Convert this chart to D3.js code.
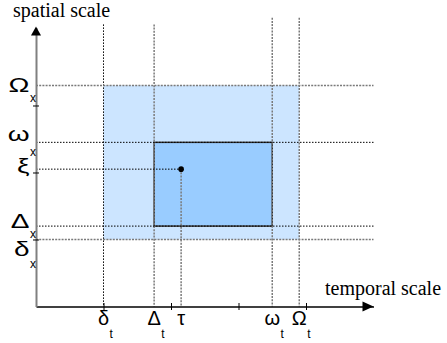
<!DOCTYPE html>
<html>
<head>
<meta charset="utf-8">
<script src="https://cdn.jsdelivr.net/npm/d3@7"></script>
<style>
  body { margin: 0; background: #fff; }
  svg { display: block; }
</style>
</head>
<body>
<div id="chart"></div>
<script>
// temporal (x) marks
const timeSymbols = ["δ", "Δ", "τ", "ω", "Ω"];
const timeSubs = ["t", "t", "", "t", "t"];
const timeValues = [1.0, 1.75, 2.15, 3.5, 3.9];
// spatial (y) marks
const spaceSymbols = ["Ω", "ω", "ξ", "Δ", "δ"];
const spaceSubs = ["x", "x", "", "x", "x"];
const spaceValues = [3.3, 2.45, 2.05, 1.2, 1.0];
// axis ticks
const xTicks = [1, 2, 3, 4];
const yTicks = [1, 2, 3];
const xLabel = "temporal scale";
const yLabel = "spatial scale";

const serif = "Liberation Serif";
const sans = "Liberation Sans";

const width = 447, height = 343;
const x = d3.scaleLinear().domain([0, 5]).range([36, 373.5]);
const y = d3.scaleLinear().domain([0, 4.164]).range([306.5, 27.5]);

const T = i => timeValues[i];
const S = i => spaceValues[i];

const svg = d3.select("#chart").append("svg")
  .attr("width", width).attr("height", height);

// outer region (δ .. Ω)
svg.append("rect")
  .attr("x", x(T(0))).attr("y", y(S(0)))
  .attr("width", x(T(4)) - x(T(0)))
  .attr("height", y(S(4)) - y(S(0)))
  .attr("fill", "#cce5ff");

// inner region (Δ .. ω)
svg.append("rect")
  .attr("x", x(T(1))).attr("y", y(S(1)))
  .attr("width", x(T(3)) - x(T(1)))
  .attr("height", y(S(3)) - y(S(1)))
  .attr("fill", "#99ccff")
  .attr("stroke", "#333")
  .attr("stroke-width", 1.5);

// guide line styles
const black = { stroke: "#000", w: 1, dash: "1.5,1.5" };
const grey = { stroke: "#7a7a7a", w: 1.5, dash: "2,1.2" };
const vStyle = [black, grey, grey, grey, grey];
const hStyle = [grey, black, black, black, grey];
const vTop = [4.21, 4.21, null, 4.31, 4.31];

const guides = svg.append("g");
timeValues.forEach((v, i) => {
  const st = vStyle[i];
  const top = vTop[i] === null ? S(2) : vTop[i];
  guides.append("line")
    .attr("x1", x(v)).attr("x2", x(v))
    .attr("y1", y(top)).attr("y2", y(0))
    .attr("stroke", st.stroke).attr("stroke-width", st.w)
    .attr("stroke-dasharray", st.dash);
});
spaceValues.forEach((v, i) => {
  const st = hStyle[i];
  const right = spaceSymbols[i] === "ξ" ? T(2) : 5;
  guides.append("line")
    .attr("x1", x(0)).attr("x2", x(right))
    .attr("y1", y(v)).attr("y2", y(v))
    .attr("stroke", st.stroke).attr("stroke-width", st.w)
    .attr("stroke-dasharray", st.dash);
});

// point (τ, ξ)
svg.append("circle")
  .attr("cx", x(T(2))).attr("cy", y(S(2)))
  .attr("r", 2.8).attr("fill", "#000");

// axes
const xAxis = svg.append("g")
  .attr("transform", `translate(0,${y(0)})`)
  .call(d3.axisBottom(x).tickValues(xTicks).tickSize(7).tickSizeOuter(0).tickFormat(""));
xAxis.select(".domain").attr("stroke", "#000").attr("stroke-width", 1.5);
xAxis.selectAll(".tick line").attr("y1", -3.5).attr("y2", 3.5).attr("stroke", "#000");

const yAxis = svg.append("g")
  .attr("transform", `translate(${x(0)},0)`)
  .call(d3.axisLeft(y).tickValues(yTicks).tickSize(6).tickSizeOuter(0).tickFormat(""));
yAxis.select(".domain").attr("stroke", "#808080").attr("stroke-width", 2);
yAxis.selectAll(".tick line").attr("x1", -3).attr("x2", 3).attr("stroke", "#000");

// arrow heads
const x0 = x(0), y0 = y(0);
svg.append("path")
  .attr("d", `M${x0},${y.range()[1] - 1} l-5,9 l10,0 z`)
  .attr("fill", "#000");
svg.append("path")
  .attr("d", `M${x.range()[1]},${y0} l-11,-5 l0,10 z`)
  .attr("fill", "#000");

// axis titles
svg.append("text")
  .attr("x", 13).attr("y", 17)
  .attr("font-family", serif).attr("font-size", 20)
  .text(yLabel);
svg.append("text")
  .attr("x", 325).attr("y", 295)
  .attr("font-family", serif).attr("font-size", 20)
  .text(xLabel);

// greek labels on the time axis
const xLab = svg.append("g");
timeValues.forEach((v, i) => {
  const t = xLab.append("text")
    .attr("x", x(v)).attr("y", 325)
    .attr("text-anchor", "middle")
    .attr("font-family", sans).attr("font-size", 20)
    .text(timeSymbols[i]);
  if (timeSubs[i]) {
    const w = t.node().getComputedTextLength();
    xLab.append("text")
      .attr("x", x(v) + w / 2 + 0.5).attr("y", 338)
      .attr("font-family", sans).attr("font-size", 12)
      .text(timeSubs[i]);
  }
});

// vertical offsets for y labels (baseline of glyph, baseline of subscript)
const yOff = { "Ω": [7, 17], "ω": [-1, 14], "ξ": [4, 0], "Δ": [1.5, 11.5], "δ": [17, 29] };
const yLab = svg.append("g");
spaceValues.forEach((v, i) => {
  const o = yOff[spaceSymbols[i]];
  yLab.append("text")
    .attr("transform", `translate(29.5,${y(v) + o[0]}) scale(1.4,1)`)
    .attr("text-anchor", "end")
    .attr("font-family", sans).attr("font-size", 20)
    .text(spaceSymbols[i]);
  if (spaceSubs[i]) {
    yLab.append("text")
      .attr("x", 30).attr("y", y(v) + o[1])
      .attr("font-family", sans).attr("font-size", 12)
      .text(spaceSubs[i]);
  }
});
</script>
</body>
</html>
